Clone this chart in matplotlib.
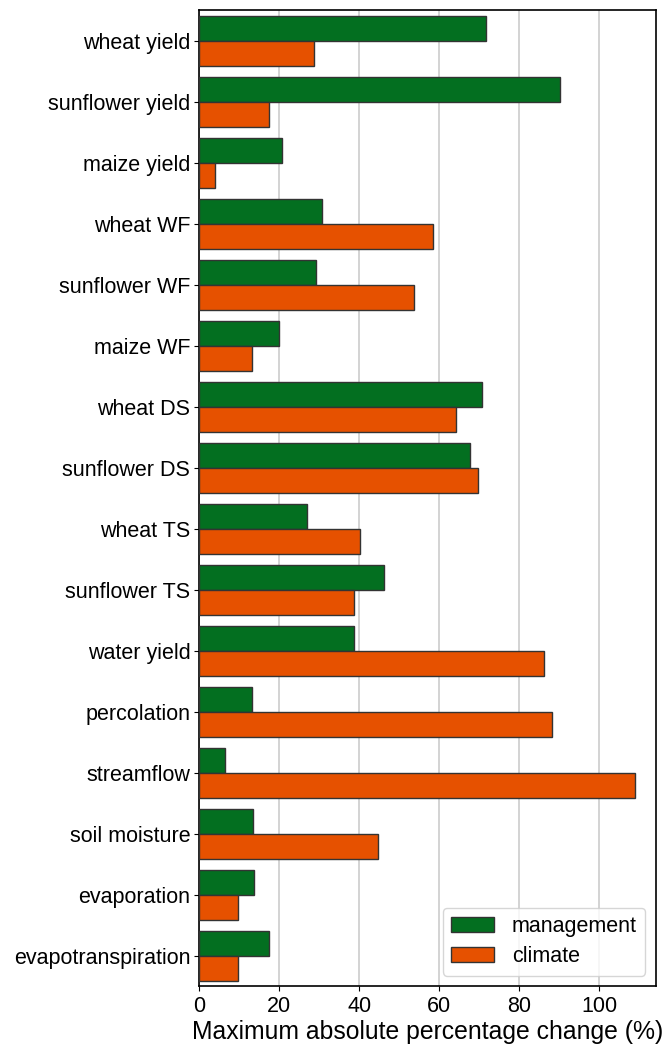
import numpy as np
import matplotlib.pyplot as plt

plt.rcParams['font.family'] = ['Liberation Sans', 'DejaVu Sans']

# categories and values (max absolute percentage change, %)
labels = ["wheat yield", "sunflower yield", "maize yield", "wheat WF", "sunflower WF",
          "maize WF", "wheat DS", "sunflower DS", "wheat TS", "sunflower TS",
          "water yield", "percolation", "streamflow", "soil moisture", "evaporation",
          "evapotranspiration"]
management = [71.8, 90.1, 20.7, 30.7, 29.1, 19.8, 70.7, 67.8, 27.0, 46.3,
              38.8, 13.2, 6.5, 13.5, 13.6, 17.4]
climate = [28.6, 17.3, 3.9, 58.5, 53.7, 13.2, 64.2, 69.7, 40.1, 38.6,
           86.2, 88.1, 108.9, 44.7, 9.7, 9.6]

green = "#036f20"
orange = "#e65100"

fig = plt.figure(figsize=(6.66, 10.48), dpi=100)
ax = fig.add_axes([0.2993, 0.0589, 0.6857, 0.9316])

y = np.arange(len(labels))
h = 0.41
ax.barh(y - h / 2, management, height=h, color=green, edgecolor="#333333",
        linewidth=1.0, label="management", zorder=3)
ax.barh(y + h / 2, climate, height=h, color=orange, edgecolor="#333333",
        linewidth=1.0, label="climate", zorder=3)

ax.set_yticks(y)
ax.set_yticklabels(labels, fontsize=15.5)
ax.set_ylim(15.49, -0.51)
ax.set_xlim(0, 114.2)
ax.set_xticks([0, 20, 40, 60, 80, 100])
ax.tick_params(axis='x', labelsize=15.5)
ax.tick_params(axis='y', pad=3)
ax.grid(axis='x', color="#cccccc", linewidth=1.2, zorder=0)
ax.set_axisbelow(True)
for s in ax.spines.values():
    s.set_linewidth(1.2)
ax.set_xlabel("Maximum absolute percentage change (%)", fontsize=17.8, labelpad=2)

ax.legend(loc="lower right", fontsize=15.5, handlelength=2.0, handleheight=0.72,
          borderpad=0.4, labelspacing=0.4, handletextpad=0.8, borderaxespad=0.5)

fig.savefig("out.png", dpi=100)
